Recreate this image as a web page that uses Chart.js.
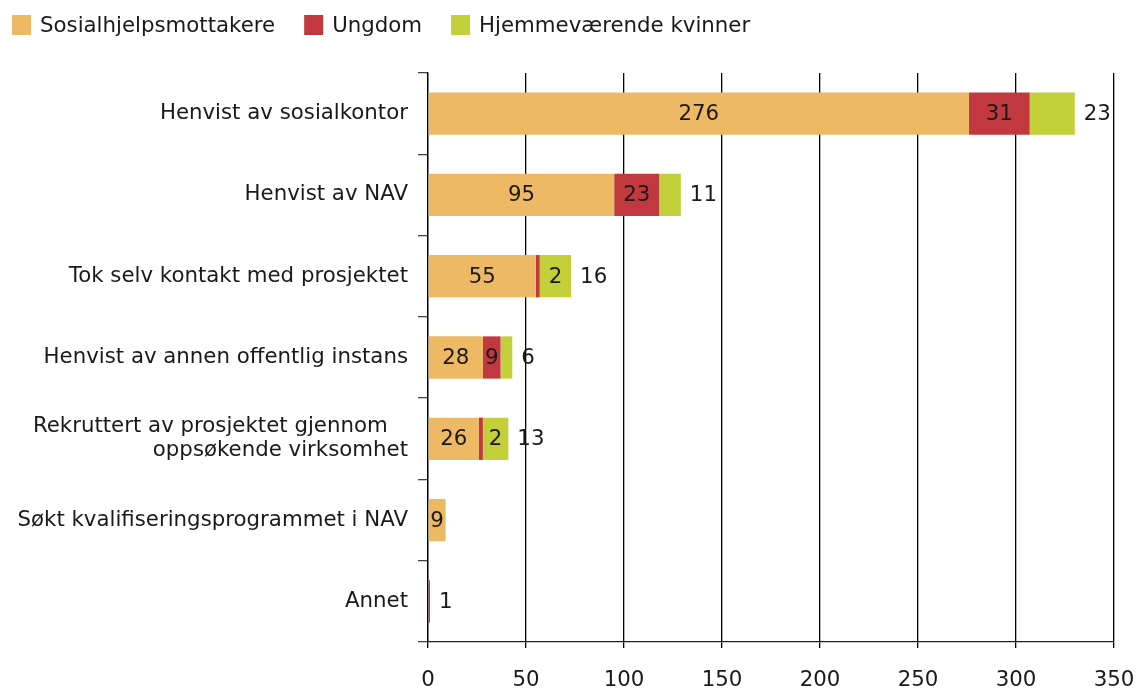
<!DOCTYPE html>
<html>
<head>
<meta charset="utf-8">
<script src="https://cdn.jsdelivr.net/npm/chart.js@4/dist/chart.umd.min.js"></script>
<style>
  html, body { margin: 0; padding: 0; background: #fff; }
  #wrap { width: 1138px; height: 690px; }
</style>
</head>
<body>
<div id="wrap"><canvas id="Chart" width="1138" height="690"></canvas></div>
<script>
// Kategorier og verdier
const categories = [
    'Henvist av sosialkontor',
    'Henvist av NAV',
    'Tok selv kontakt med prosjektet',
    'Henvist av annen offentlig instans',
    ['Rekruttert av prosjektet gjennom   ', 'oppsøkende virksomhet'],
    'Søkt kvalifiseringsprogrammet i NAV',
    'Annet'
];
const sosialhjelp = [276, 95, 55, 28, 26, 9, null];
const ungdom = [31, 23, 2, 9, 2, null, 1];
const kvinner = [23, 11, 16, 6, 13, null, null];
const xTicks = [0, 50, 100, 150, 200, 250, 300, 350];

const fontFam = "'DejaVu Sans', Verdana, sans-serif";
const fontSize = 21.3;
const textColor = '#1a1a1a';

// Tegner verdiene på/ved stolpene
const valueLabels = {
    id: 'valueLabels',
    afterDatasetsDraw(chart) {
        const ctx = chart.ctx;
        ctx.save();
        ctx.font = fontSize + 'px ' + fontFam;
        ctx.fillStyle = textColor;
        ctx.textBaseline = 'middle';
        chart.data.datasets.forEach((ds, di) => {
            const meta = chart.getDatasetMeta(di);
            meta.data.forEach((bar, i) => {
                const v = ds.data[i];
                if (v == null) return;
                const x0 = Math.min(bar.base, bar.x);
                const x1 = Math.max(bar.base, bar.x);
                let x, align = 'center';
                if (di === 0) {
                    x = (x0 + x1) / 2;
                } else if (di === 1) {
                    if (x1 - x0 >= 14) {
                        x = (x0 + x1) / 2;
                    } else if (kvinner[i] != null) {
                        // for smal stolpe: legg tallet i neste felt
                        const g = chart.getDatasetMeta(2).data[i];
                        x = (g.base + g.x) / 2;
                    } else {
                        x = x1 + 9;
                        align = 'left';
                    }
                } else {
                    x = x1 + 9;
                    align = 'left';
                }
                ctx.textAlign = align;
                ctx.fillText(String(v), x, bar.y + 1);
            });
        });
        ctx.restore();
    }
};

// Egen forklaring øverst til venstre
const topLegend = {
    id: 'topLegend',
    afterDraw(chart) {
        const ctx = chart.ctx;
        ctx.save();
        ctx.font = fontSize + 'px ' + fontFam;
        ctx.textBaseline = 'middle';
        ctx.textAlign = 'left';
        let x = 12;
        const y = 25;
        chart.data.datasets.forEach(ds => {
            ctx.fillStyle = ds.backgroundColor;
            ctx.fillRect(x, y - 10, 19, 20);
            x += 19 + 9;
            ctx.fillStyle = textColor;
            ctx.fillText(ds.label, x, y + 1);
            x += ctx.measureText(ds.label).width + 29;
        });
        ctx.restore();
    }
};

const data = {
    labels: categories,
    datasets: [
        { label: 'Sosialhjelpsmottakere', data: sosialhjelp, backgroundColor: '#EDB964' },
        { label: 'Ungdom', data: ungdom, backgroundColor: '#C1393E' },
        { label: 'Hjemmeværende kvinner', data: kvinner, backgroundColor: '#C4D03A' }
    ]
};

const options = {
    indexAxis: 'y',
    responsive: false,
    animation: false,
    datasets: {
        bar: { barPercentage: 0.52, categoryPercentage: 1.0, borderWidth: 0 }
    },
    layout: { padding: { left: 8, right: 24, top: 73, bottom: 0 } },
    scales: {
        x: {
            stacked: true,
            min: 0,
            max: 350,
            afterBuildTicks(axis) {
                axis.ticks = xTicks.map(v => ({ value: v }));
            },
            afterFit(axis) {
                axis.height = 48;
                axis.paddingLeft = 0;
                axis.paddingRight = 0;
            },
            grid: { color: '#000', lineWidth: 1.3, tickLength: 6, drawTicks: true },
            border: { color: '#222', width: 1.3 },
            ticks: { color: textColor, font: { family: fontFam, size: fontSize }, padding: 20, maxRotation: 0 }
        },
        y: {
            stacked: true,
            offset: true,
            afterFit(axis) {
                axis.width = 420;
                axis.paddingTop = 0;
                axis.paddingBottom = 0;
            },
            grid: { offset: true, drawOnChartArea: false, color: '#444', lineWidth: 1.3, tickLength: 10 },
            border: { color: '#000', width: 1.3 },
            ticks: { color: textColor, font: { family: fontFam, size: fontSize, lineHeight: 1.13 }, padding: 10, autoSkip: false }
        }
    },
    plugins: {
        legend: { display: false },
        tooltip: { enabled: false }
    }
};

const context = document.getElementById('Chart').getContext('2d');
const myChart = new Chart(context, {
    type: 'bar',
    data: data,
    options: options,
    plugins: [valueLabels, topLegend]
});
</script>
</body>
</html>
